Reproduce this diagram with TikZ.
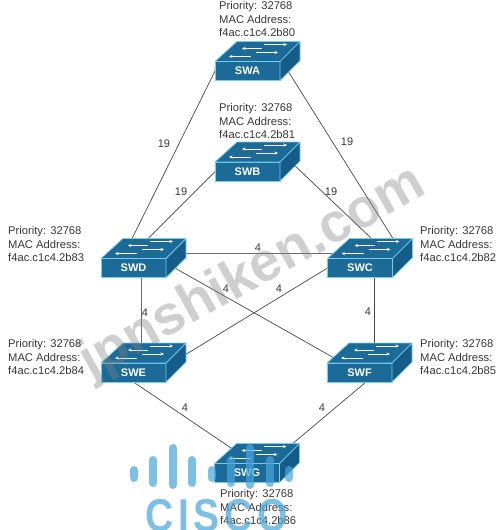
\documentclass[tikz,border=0pt]{standalone}
\usepackage{fontspec}
\setmainfont{Liberation Sans}
\usetikzlibrary{arrows.meta,backgrounds}

\definecolor{swblue}{RGB}{27,106,151}
\definecolor{swdark}{RGB}{22,92,136}
\definecolor{swedge}{RGB}{120,205,235}
\definecolor{lnkgray}{RGB}{70,70,70}
\definecolor{txtgray}{RGB}{55,55,55}
\definecolor{logoblue}{RGB}{70,165,220}

\tikzset{
  switchbox/.style={rectangle, fill=swblue, draw=swedge, line width=0.7pt, outer sep=0pt,
    minimum width=65pt, minimum height=19pt, inner sep=0pt,
    text=white, font=\fontsize{11}{11}\selectfont\bfseries},
  info/.style={anchor=west, align=left, inner sep=0pt, text=txtgray,
    font=\fontsize{11.2}{13.5}\selectfont},
  cost/.style={inner sep=0pt, text=txtgray, font=\fontsize{11}{11}\selectfont},
  lnk/.style={draw=lnkgray, line width=0.7pt},
  thicklnk/.style={draw=lnkgray!80, line width=1pt},
  flow/.style={draw=white, line width=0.7pt, -{Stealth[length=3.5pt,width=3pt]}}
}

\begin{document}
\begin{tikzpicture}[x=1pt,y=-1pt]

  \clip (0,0) rectangle (503,530);

  % switches, front faces only
  \node[switchbox] (swa) at (247.5,71) {SWA};
  \node[switchbox] (swb) at (247.5,171.5) {SWB};
  \node[switchbox] (swd) at (133.5,268) {SWD};
  \node[switchbox] (swc) at (360,268) {SWC};
  \node[switchbox] (swe) at (133.5,372.5) {SWE};
  \node[switchbox] (swf) at (359.5,372.5) {SWF};
  \node[switchbox] (swg) at (247,473) {SWG};

  % links run under the switch bodies
  \begin{scope}[on background layer]
    \draw[lnk] (swa.west) -- (swd.140);
    \draw[lnk] ([xshift=8pt]swa.east) -- ([xshift=13pt]swc.north east);
    \draw[lnk] (swb.west) -- (swd.120);
    \draw[lnk] ([xshift=11pt]swb.north east) -- (swc.north east);
    \draw[thicklnk] ([yshift=15pt]swd.center) -- ([yshift=15pt]swc.center);
    \draw[thicklnk] ([xshift=7.5pt]swd.south) -- ([xshift=7.5pt]swe.north);
    \draw[lnk] ([yshift=5pt]swd.east) -- (swf.150);
    \draw[lnk] ([yshift=6pt]swe.east) -- (swc.west);
    \draw[lnk] ([xshift=14pt]swc.south) -- ([xshift=14.5pt]swf.north);
    \draw[lnk] (swe.south) -- ([xshift=7pt]swg.north);
    \draw[lnk] ([xshift=6.5pt]swf.south) -- ([xshift=22pt]swg.north);
  \end{scope}

  % top and side of each switch, with the four arrows
  \foreach \sw in {swa,swb,swc,swd,swe,swf,swg} {
    \begin{scope}[shift={(\sw.north west)}]
      \filldraw[fill=swblue, draw=swedge, line width=0.7pt, line join=round]
        (0,0) -- (22,-20) -- (85,-20) -- (65,0) -- cycle;
      \filldraw[fill=swdark, draw=swedge, line width=0.7pt, line join=round]
        (65,0) -- (85,-20) -- (85,-1) -- (65,19) -- cycle;
      \draw[flow] (49,-17) -- (72,-17);
      \draw[flow] (47,-13) -- (27,-13);
      \draw[flow] (41,-9) -- (63,-9);
      \draw[flow] (36,-5) -- (14,-5);
    \end{scope}
  }

  % switch data
  \node[info] (infoa) at (219,19) {Priority: 32768\\MAC Address:\\f4ac.c1c4.2b80};
  \node[info] (infob) at (219,121) {Priority: 32768\\MAC Address:\\f4ac.c1c4.2b81};
  \node[info] (infoc) at (420,244) {Priority: 32768\\MAC Address:\\f4ac.c1c4.2b82};
  \node[info] (infod) at (8,244) {Priority: 32768\\MAC Address:\\f4ac.c1c4.2b83};
  \node[info] (infoe) at (8,357) {Priority: 32768\\MAC Address:\\f4ac.c1c4.2b84};
  \node[info] (infof) at (420,357) {Priority: 32768\\MAC Address:\\f4ac.c1c4.2b85};
  \node[info] (infog) at (220,507) {Priority: 32768\\MAC Address:\\f4ac.c1c4.2b86};

  % path costs
  \node[cost] (costad) at (164,144) {19};
  \node[cost] (costac) at (347,142) {19};
  \node[cost] (costbd) at (181,192) {19};
  \node[cost] (costbc) at (331,192) {19};
  \node[cost] (costdc) at (258,248) {4};
  \node[cost] (costdf) at (226,289) {4};
  \node[cost] (costec) at (279,289) {4};
  \node[cost] (costde) at (145,313) {4};
  \node[cost] (costcf) at (368,312) {4};
  \node[cost] (costeg) at (185,408) {4};
  \node[cost] (costfg) at (322,408) {4};

  % watermark and logo lie over everything
  \node[rotate=29, text=gray, text opacity=0.38, inner sep=0pt,
    font=\fontsize{55}{55}\selectfont\bfseries] (wmark) at (253,274) {jpnshiken.com};

  \foreach \xpos/\ytop/\ybot in {134/470/478, 153/460/483, 173/448/485, 192/460/483, 212/470/478,
      231/460/483, 250/448/485, 270/460/483, 289/470/478} {
    \draw[logoblue, opacity=0.7, line width=8pt, line cap=round] (\xpos,\ytop) -- (\xpos,\ybot);
  }
  \node[anchor=base west, inner sep=0pt, xscale=0.85, text=logoblue, text opacity=0.7,
    font=\fontsize{46}{46}\selectfont\bfseries\addfontfeature{LetterSpace=12}] (logotext) at (145,531) {CISCO};

\end{tikzpicture}
\end{document}
